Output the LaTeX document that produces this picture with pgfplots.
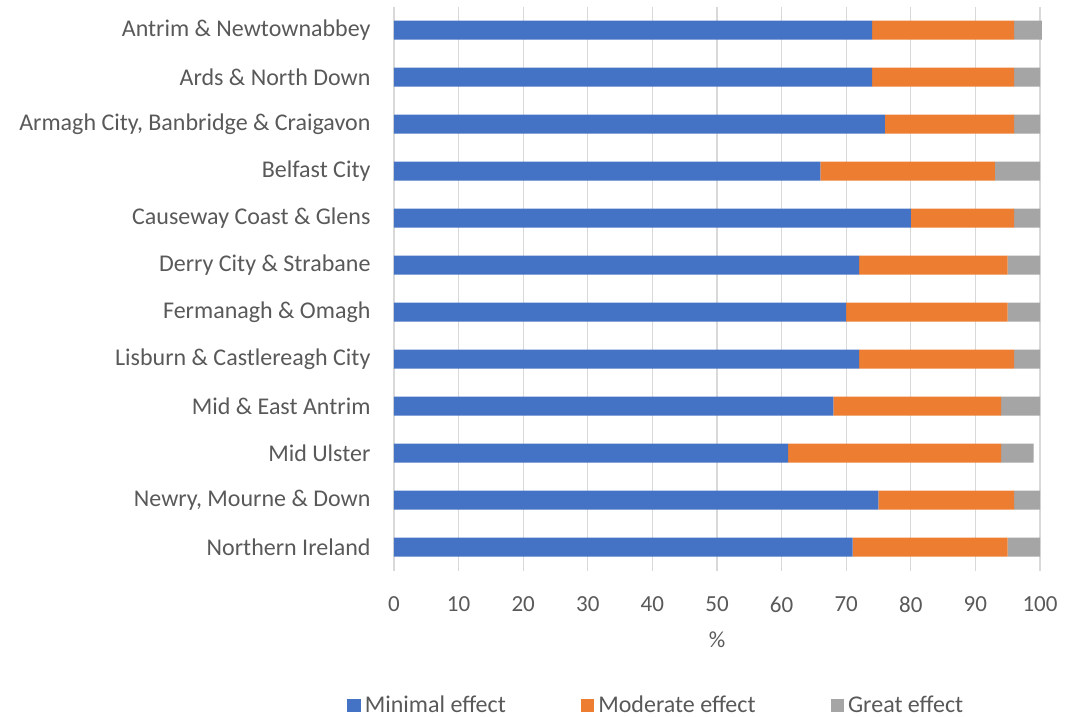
\documentclass[border=0pt]{standalone}
\usepackage{pgfplots}
\pgfplotsset{compat=1.18}
\usepackage{fontspec}
\setmainfont{Carlito}
\definecolor{cblue}{HTML}{4472C4}
\definecolor{corange}{HTML}{ED7D31}
\definecolor{cgrey}{HTML}{A5A5A5}
\definecolor{ctext}{HTML}{595959}
\definecolor{cgrid}{HTML}{D9D9D9}
\begin{document}
\begin{tikzpicture}[x=1pt,y=1pt]
\useasboundingbox (-394pt,-146.5pt) rectangle (688pt,570.5pt);
\begin{axis}[
  at={(0,0)}, anchor=south west,
  scale only axis, width=646pt, height=564pt,
  xbar stacked, bar width=19pt,
  xmin=0, xmax=100, ymin=-0.5, ymax=11.5,
  y dir=reverse, clip=false,
  xtick={0,10,...,100},
  ytick={0,...,11},
  yticklabels={Antrim \& Newtownabbey, Ards \& North Down, {Armagh City, Banbridge \& Craigavon}, Belfast City, Causeway Coast \& Glens, Derry City \& Strabane, Fermanagh \& Omagh, Lisburn \& Castlereagh City, Mid \& East Antrim, Mid Ulster, {Newry, Mourne \& Down}, Northern Ireland},
  axis line style={draw=none},
  y axis line style={draw=cgrid, line width=1pt},
  axis x line*=bottom, axis y line*=left,
  x axis line style={draw=none},
  major tick length=0pt,
  xmajorgrids, grid style={cgrid, line width=1.2pt},
  yticklabel style={font=\fontsize{24}{28}\selectfont, text=ctext, xshift=-20pt},
  xticklabel style={font=\fontsize{23}{27}\selectfont, text=ctext, yshift=-23pt},
  /pgf/number format/assume math mode=true,
  xlabel={\%}, xlabel style={font=\fontsize{23}{27}\selectfont, text=ctext, yshift=-12pt},
  legend columns=3,
  legend style={at={(0.406,-0.2385)}, anchor=center, draw=none, font=\fontsize{24}{28}\selectfont, text=ctext,
    /tikz/every odd column/.append style={column sep=2pt}},
  legend cell align=left,
  /tikz/every even column/.append style={column sep=73pt},
  legend image code/.code={\fill[#1] (0pt,-7pt) rectangle (13.5pt,6.5pt);},
  every axis plot/.append style={draw=none},
]
\addplot[fill=cblue] coordinates {(74,0) (74,1) (76,2) (66,3) (80,4) (72,5) (70,6) (72,7) (68,8) (61,9) (75,10) (71,11)};
\addplot[fill=corange] coordinates {(22,0) (22,1) (20,2) (27,3) (16,4) (23,5) (25,6) (24,7) (26,8) (33,9) (21,10) (24,11)};
\addplot[fill=cgrey] coordinates {(4.3,0) (4,1) (4,2) (7,3) (4,4) (5,5) (5,6) (4,7) (6,8) (5,9) (4,10) (5,11)};
\legend{Minimal effect, Moderate effect, Great effect}
\end{axis}
\end{tikzpicture}
\end{document}
